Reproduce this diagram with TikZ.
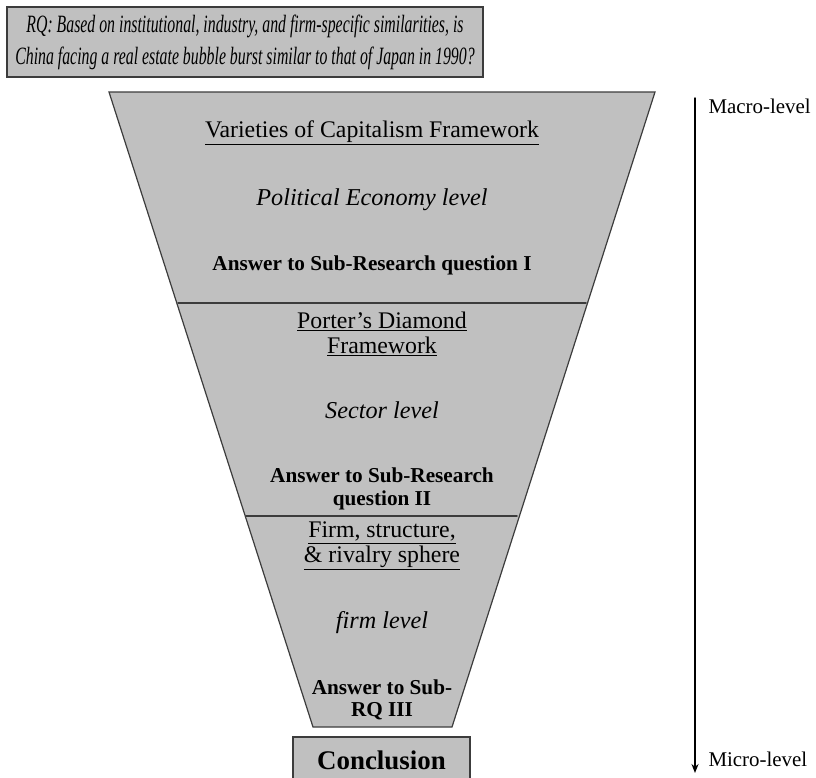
\documentclass[tikz,border=0pt]{standalone}
\usepackage{fontspec}
\setmainfont{Liberation Serif}
\usetikzlibrary{arrows.meta}
\definecolor{boxgray}{RGB}{192,192,192}
\definecolor{edgegray}{RGB}{60,60,60}
\tikzset{
  grayblock/.style={draw=edgegray, fill=boxgray, line width=1.2bp},
  frametitle/.style={align=center, font=\fontsize{23.9}{25}\selectfont},
  levelname/.style={font=\itshape\fontsize{24.3}{25}\selectfont},
  answertext/.style={align=center, font=\bfseries\fontsize{21.3}{22.5}\selectfont},
  sidetext/.style={anchor=west, font=\fontsize{21}{22}\selectfont}
}
\begin{document}
\begin{tikzpicture}[x=1bp, y=-1bp, line cap=round, >=Stealth]
			\def\cx{382}
			\useasboundingbox (0,0) rectangle (816,778);
			% research question
			\node[grayblock, line width=1.5bp, minimum width=476bp, minimum height=70bp, inner sep=0pt,
			font=\itshape\fontsize{25}{32}\selectfont] (rq) at (245,42)
			{\scalebox{0.635}[1]{\begin{tabular}{@{}c@{}}RQ: Based on institutional, industry, and firm-specific similarities, is\\China facing a real estate bubble burst similar to that of Japan in 1990?\end{tabular}}};
			% funnel
			\draw[grayblock] (109,92)--(655,92)--(452,727)--(313,727)--cycle;
			\draw[edgegray, line width=1.5bp] (178,303)--(586,303) (246,516)--(517,516);
			\node[frametitle] (voc) at (372,133) {\underline{Varieties of Capitalism Framework}};
			\node[levelname] (pel) at (372,200) {Political Economy level};
			\node[answertext] (ans1) at (372,265) {Answer to Sub-Research question I};
			\node[frametitle] (pdf) at (\cx,334) {\underline{Porter's Diamond}\\\underline{Framework}};
			\node[levelname] (sec) at (\cx,410) {Sector level};
			\node[answertext] (ans2) at (\cx,489) {Answer to Sub-Research\\question II};
			\node[frametitle] (frs) at (\cx,546) {\underline{Firm, structure,}\\\underline{\& rivalry sphere}};
			\node[levelname] (fl) at (\cx,623) {firm level};
			\node[answertext] (ans3) at (\cx,700) {Answer to Sub-\\RQ III};
			\node[grayblock, minimum width=177bp, minimum height=46bp, inner sep=0pt,
			font=\bfseries\fontsize{27}{28}\selectfont] (concl) at (381.5,760) {Conclusion};
			% macro to micro
			\coordinate (macro) at (695,98);
			\coordinate (micro) at (695,773);
			\draw[-{Stealth[length=9bp,width=7bp]}, line width=1.5bp] (macro)--(micro);
			\node[sidetext] (macrolbl) at (705,106) {Macro-level};
			\node[sidetext] (microlbl) at (705,759) {Micro-level};
		\end{tikzpicture}
\end{document}
